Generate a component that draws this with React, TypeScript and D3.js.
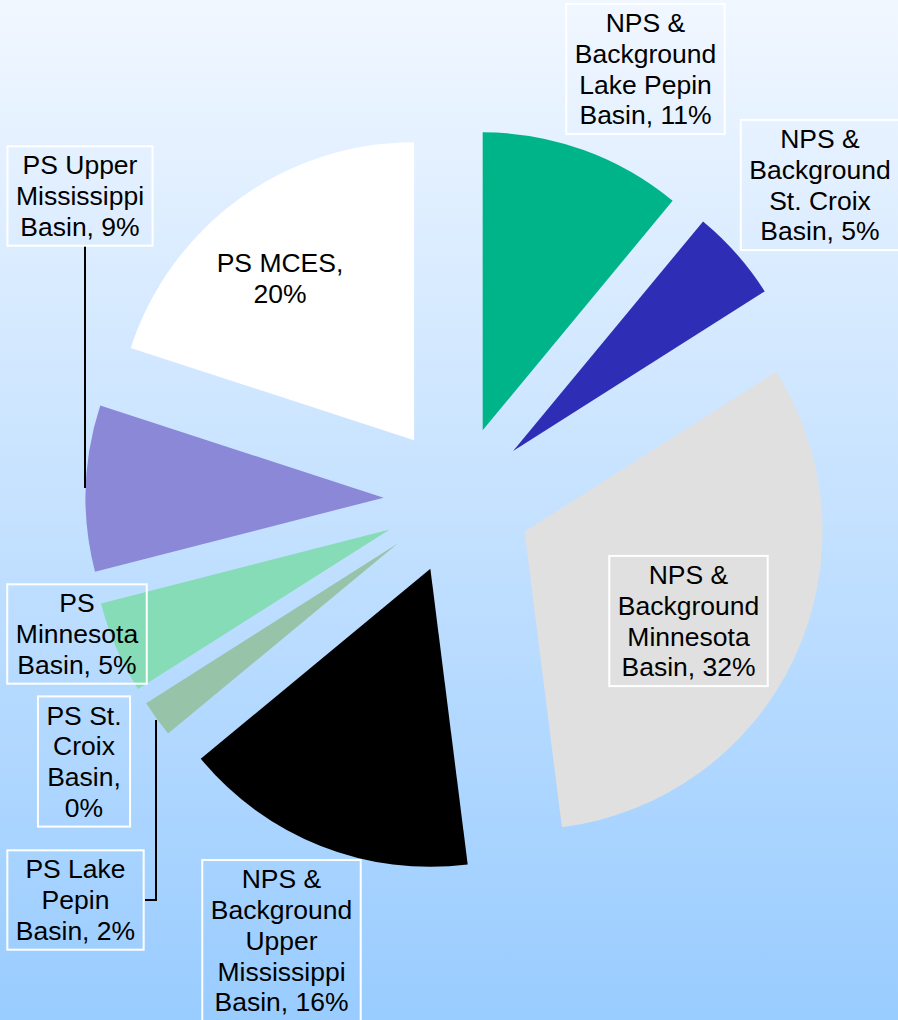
import React, { useEffect, useRef } from 'react';
import * as d3 from 'd3';

// slices, clockwise from 12 o'clock
const categories = [
    'NPS & Background Lake Pepin Basin',
    'NPS & Background St. Croix Basin',
    'NPS & Background Minnesota Basin',
    'NPS & Background Upper Mississippi Basin',
    'PS Lake Pepin Basin',
    'PS St. Croix Basin',
    'PS Minnesota Basin',
    'PS Upper Mississippi Basin',
    'PS MCES',
];
const values = [11, 5, 32, 16, 2, 0, 5, 9, 20];

// how each label wraps, % goes where {v} is
const labelLines = [
    ['NPS &', 'Background', 'Lake Pepin', 'Basin, {v}'],
    ['NPS &', 'Background', 'St. Croix', 'Basin, {v}'],
    ['NPS &', 'Background', 'Minnesota', 'Basin, {v}'],
    ['NPS &', 'Background', 'Upper', 'Mississippi', 'Basin, {v}'],
    ['PS Lake', 'Pepin', 'Basin, {v}'],
    ['PS St.', 'Croix', 'Basin,', '{v}'],
    ['PS', 'Minnesota', 'Basin, {v}'],
    ['PS Upper', 'Mississippi', 'Basin, {v}'],
    ['PS MCES,', '{v}'],
];

const colors = ['#00B48A', '#2E2DB5', '#E0E0E0', '#000000', '#97C4A9', '#6FA98A', '#86DCB6', '#8B88D7', '#FFFFFF'];

// label box centres (manual placement like the original)
const labelPos = [
    [645.5, 69], [820, 185], [688.5, 621], [281.5, 940.5],
    [75.5, 900], [84, 761.5], [77, 634], [80, 196], [280, 278],
];
const boxed = [true, true, true, true, true, true, true, true, false];
const leaders = [
    null, null, null, null,
    [[145, 900], [156, 900], [156, 720]],
    null, null,
    [[85, 246], [85, 488]],
    null,
];

const W = 898;
const H = 1020;

const App = () => {
    const svgRef = useRef(null);

    useEffect(() => {
        const svg = d3.select(svgRef.current);
        svg.selectAll('*').remove();

        const defs = svg.append('defs');
        const grad = defs.append('linearGradient')
            .attr('id', 'bg')
            .attr('x1', 0).attr('y1', 0).attr('x2', 0).attr('y2', 1);
        grad.append('stop').attr('offset', '0%').attr('stop-color', '#F1F7FF');
        grad.append('stop').attr('offset', '100%').attr('stop-color', '#99CCFF');

        svg.append('rect').attr('width', W).attr('height', H).attr('fill', 'url(#bg)');

        const cx = 457.6;
        const cy = 500;
        const radius = 298;
        const explode = 74;

        const pie = d3.pie().sort(null).value((d) => d)(values);
        const arc = d3.arc().innerRadius(0).outerRadius(radius);

        const g = svg.append('g').attr('transform', `translate(${cx},${cy})`);
        g.selectAll('path')
            .data(pie)
            .join('path')
            .attr('d', (d) => (d.endAngle - d.startAngle > 0 ? arc(d) : null))
            .attr('fill', (d, i) => colors[i])
            .attr('transform', (d) => {
                const mid = (d.startAngle + d.endAngle) / 2;
                return `translate(${Math.sin(mid) * explode},${-Math.cos(mid) * explode})`;
            });

        const line = d3.line();
        leaders.forEach((pts) => {
            if (!pts) return;
            svg.append('path')
                .attr('d', line(pts))
                .attr('fill', 'none')
                .attr('stroke', '#000')
                .attr('stroke-width', 2);
        });

        const fontSize = 26.5;
        const lh = 30.8;
        categories.forEach((name, i) => {
            const lines = labelLines[i].map((s) => s.replace('{v}', `${values[i]}%`));
            const [x, y] = labelPos[i];
            const lg = svg.append('g').attr('aria-label', name);
            const rect = lg.append('rect');
            const txt = lg.append('text')
                .attr('text-anchor', 'middle')
                .attr('font-family', '"Liberation Sans", Arial, sans-serif')
                .attr('font-size', fontSize)
                .attr('fill', '#000');
            const top = y - (lines.length * lh) / 2;
            lines.forEach((s, k) => {
                txt.append('tspan')
                    .attr('x', x)
                    .attr('y', top + k * lh + lh / 2)
                    .attr('dy', '0.35em')
                    .text(s);
            });
            if (boxed[i]) {
                const bb = txt.node().getBBox();
                const bw = bb.width + 17;
                const bh = lines.length * lh + 7;
                rect.attr('x', x - bw / 2)
                    .attr('y', y - bh / 2)
                    .attr('width', bw)
                    .attr('height', bh)
                    .attr('fill', 'none')
                    .attr('stroke', '#fff')
                    .attr('stroke-width', 2);
            } else {
                rect.remove();
            }
        });
    }, []);

    return (
        <svg
            ref={svgRef}
            width={W}
            height={H}
            style={{ position: 'absolute', left: 0, top: 0 }}
        />
    );
};

export default App;
